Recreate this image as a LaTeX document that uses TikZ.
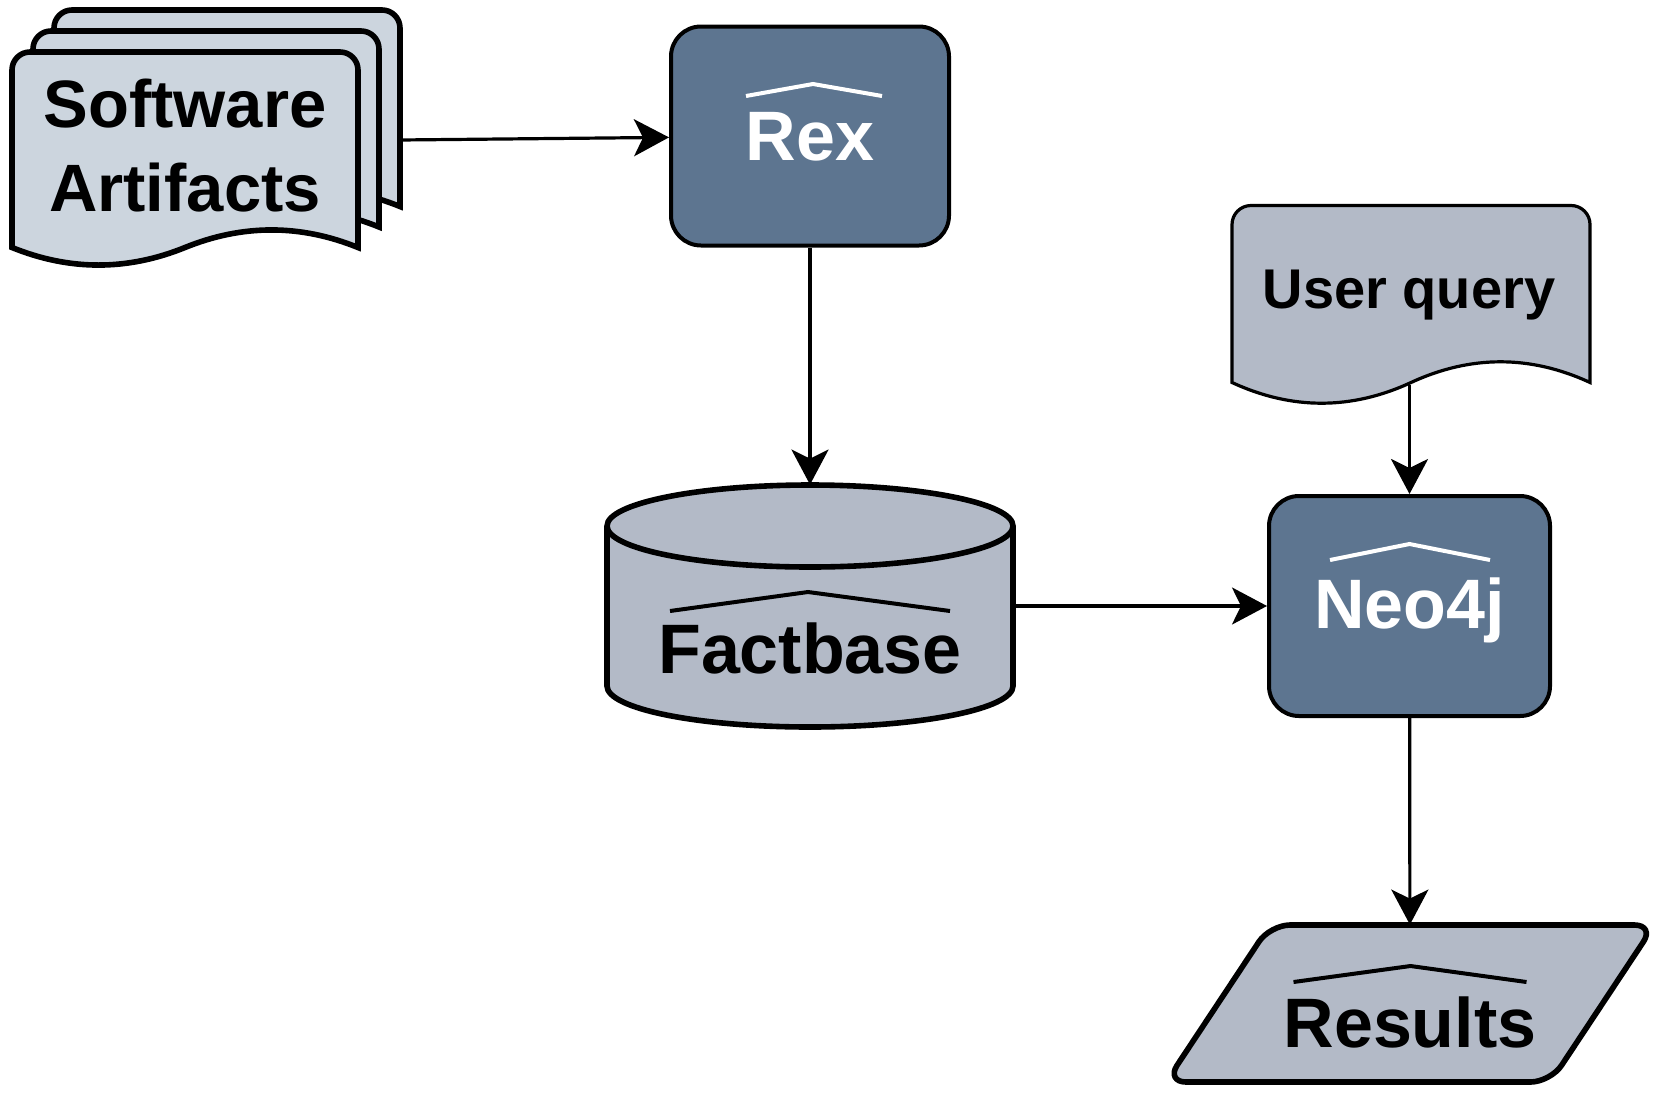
\documentclass[tikz,border=0pt]{standalone}
\usepackage{fontspec}
\setmainfont{Liberation Sans}
\usetikzlibrary{arrows.meta,calc}
\definecolor{procfill}{HTML}{5D7590}
\definecolor{datafill}{HTML}{B3BAC7}
\definecolor{docfill}{HTML}{CCD5DE}
% document shape: #1 style, #2 L, #3 T, #4 R, #5 y0 (bottom ends), #6 dy (wave), #7 corner radius; pixel units, y down
\newcommand{\mydoc}[7][]{%
  \pgfmathsetmacro\dcW{#4-#2}%
  \pgfmathsetmacro\dcM{(#2+#4)/2}%
  \pgfmathsetmacro\dcA{#4-\dcW/6}%
  \pgfmathsetmacro\dcAy{#5-0.6*#6}%
  \pgfmathsetmacro\dcB{\dcM+\dcW/6}%
  \pgfmathsetmacro\dcC{\dcM-\dcW/6}%
  \pgfmathsetmacro\dcCy{#5+0.6*#6}%
  \pgfmathsetmacro\dcD{#2+\dcW/6}%
  \draw[#1] (#2,-#5) -- (#2,-#3-#7)
    .. controls (#2,-#3-0.448*#7) and (#2+0.448*#7,-#3) .. (#2+#7,-#3)
    -- (#4-#7,-#3)
    .. controls (#4-0.448*#7,-#3) and (#4,-#3-0.448*#7) .. (#4,-#3-#7)
    -- (#4,-#5)
    .. controls (\dcA,-\dcAy) and (\dcB,-\dcAy) .. (\dcM,-#5)
    .. controls (\dcC,-\dcCy) and (\dcD,-\dcCy) .. (#2,-#5) -- cycle;%
}
\begin{document}
\begin{tikzpicture}[x=0.5pt,y=0.5pt,
  arr/.style={line width=1.6pt, -{Stealth[length=17.5pt,width=18.5pt,inset=4.5pt]}},
  procbox/.style={draw, line width=2pt, fill=procfill, rounded corners=15pt, text=white,
    font=\fontsize{35pt}{42pt}\selectfont\bfseries, inner sep=0pt},
  shapelabel/.style={inner sep=0pt, font=\fontsize{35pt}{42pt}\selectfont\bfseries},
  hatw/.style={white, line width=2pt},
  hatb/.style={black, line width=2pt},
  sadoc/.style={fill=docfill, line width=2.8pt},
  thickshape/.style={fill=datafill, line width=2.8pt},
]
\useasboundingbox (0,0) rectangle (1668,-1092);

% Software artifacts (stack of documents)
\mydoc[sadoc]{54}{10}{400}{206.5}{39}{18}
\mydoc[sadoc]{33}{31}{379}{227}{39}{18}
\mydoc[sadoc]{12}{52}{358}{247.5}{39}{18}
\node[align=center, inner sep=0pt, font=\fontsize{33.5pt}{42pt}\selectfont\bfseries] (sa) at (185,-146) {Software\\Artifacts};
\coordinate (saout) at (400,-140);

% Rex
\node[procbox, minimum width=139pt, minimum height=109.5pt, text height=25pt, text depth=1pt] (rex) at (810,-136) {Rex};
\draw[hatw] ($(rex.center)+(-64,40)$) -- ($(rex.center)+(3,52)$) -- ($(rex.center)+(72,40)$);

% Factbase (cylinder)
\draw[thickshape] (607,-526) -- (607,-686)
  arc[start angle=180, end angle=360, x radius=203, y radius=41] -- (1013,-526)
  arc[start angle=0, end angle=180, x radius=203, y radius=41] -- cycle;
\draw[line width=2.8pt] (607,-526) arc[start angle=180, end angle=360, x radius=203, y radius=41];
\node[shapelabel, minimum width=203pt, minimum height=121pt, text height=67pt, text depth=0pt] (fb) at (810,-606) {Factbase};
\draw[hatb] ($(fb.center)+(-140,-5)$) -- ($(fb.center)+(-2,14)$) -- ($(fb.center)+(140,-5)$);

% User query (document)
\mydoc[fill=datafill, line width=1.6pt]{1232}{205.5}{1590}{382.5}{46}{19}
\node[inner sep=0pt, font=\fontsize{28pt}{34pt}\selectfont\bfseries, minimum width=179pt, minimum height=88.5pt, text height=20pt, text depth=5.75pt] (uq) at (1409,-294) {User query};
\coordinate (uqout) at (1409.5,-385);

% Neo4j
\node[procbox, minimum width=140.5pt, minimum height=110pt, text height=25pt, text depth=3pt] (neo) at (1409.5,-606) {Neo4j};
\draw[hatw] ($(neo.center)+(-79.5,46)$) -- ($(neo.center)+(0,62)$) -- ($(neo.center)+(80.5,46)$);

% Results (parallelogram)
\draw[thickshape, rounded corners=10pt] (1166,-1082) -- (1270,-925) -- (1654.5,-925) -- (1550.5,-1082) -- cycle;
\node[shapelabel, minimum width=244pt, minimum height=78.5pt, text height=43.5pt, text depth=0pt] (res) at (1410,-1003.5) {Results};
\draw[hatb] ($(res.center)+(-116.5,21.5)$) -- ($(res.center)+(0.5,37.5)$) -- ($(res.center)+(116.5,21.5)$);

% connectors
\draw[arr] (saout) -- (rex);
\draw[arr] (rex) -- (fb);
\draw[arr] (fb) -- (neo);
\draw[arr] (uqout) -- (neo);
\draw[arr] (neo) -- (res);
\end{tikzpicture}
\end{document}
